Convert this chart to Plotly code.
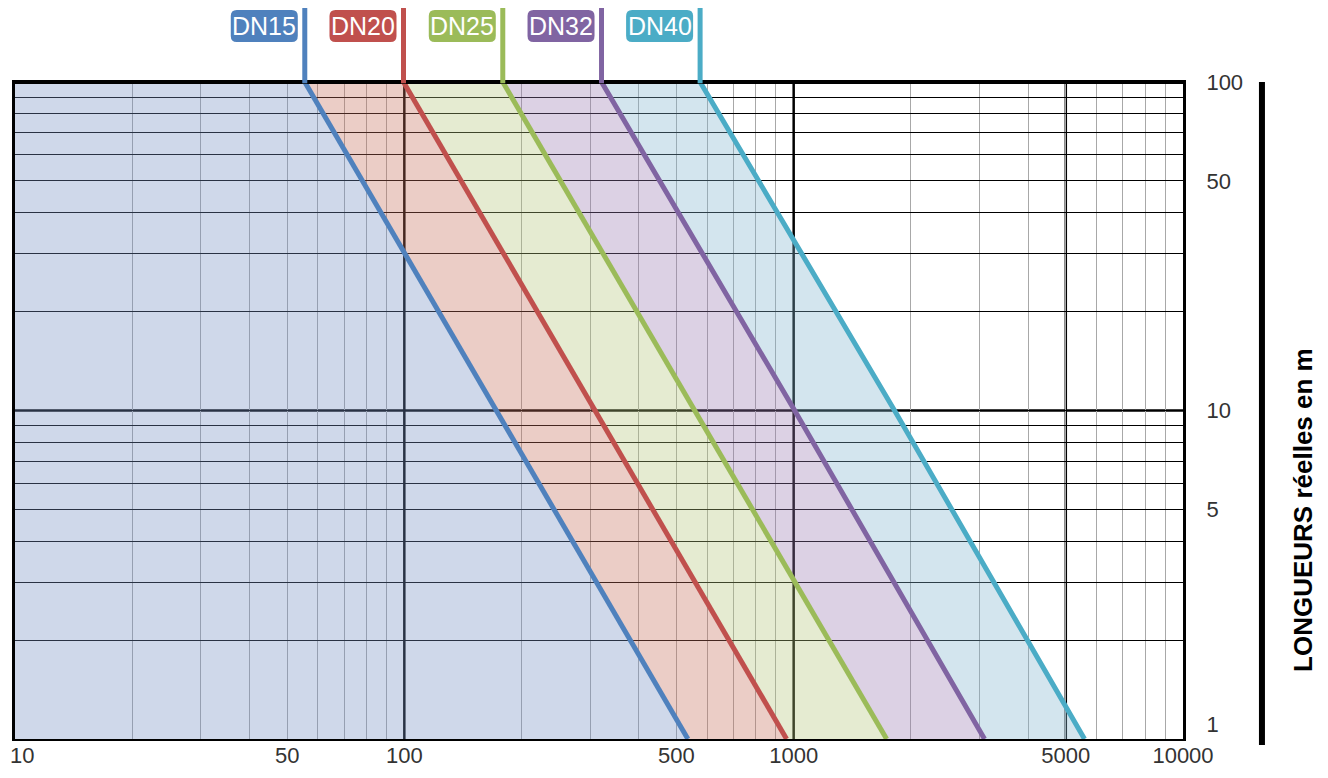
import numpy as np
import plotly.graph_objects as go

# ---- data ----
series_names = ["DN15", "DN20", "DN25", "DN32", "DN40"]
lengths_y = [100, 10, 1]              # real lengths (m) at the read points
dn15_x = [55.5, 172.8, 535]
dn20_x = [99.5, 308, 959]
dn25_x = [179, 557, 1733]
dn32_x = [321, 1006, 3092]
dn40_x = [575, 1816, 5585]
series_x = [dn15_x, dn20_x, dn25_x, dn32_x, dn40_x]

line_colors = ["#4f81bd", "#c0504d", "#9bbb59", "#8064a2", "#4bacc6"]
fill_colors = ["rgba(118,144,195,0.35)", "rgba(198,112,92,0.35)",
               "rgba(181,198,124,0.35)", "rgba(155,124,178,0.35)",
               "rgba(129,181,206,0.35)"]

x_tick_vals = [10, 50, 100, 500, 1000, 5000, 10000]
x_tick_text = ["10", "50", "100", "500", "1000", "5000", "10000"]
x_minor_vals = [20, 30, 40, 50, 60, 70, 80, 90,
                200, 300, 400, 500, 600, 700, 800, 900,
                2000, 3000, 4000, 5000, 6000, 7000, 8000, 9000]
x_major_lines = [100, 1000, 5000]
y_tick_vals = [1, 5, 10, 50, 100]
y_tick_text = ["1<br>\u00a0", "5", "10", "50", "100"]
y_minor_vals = [2, 3, 4, 6, 7, 8, 9, 20, 30, 40, 60, 70, 80, 90]
y_major_lines = [10]
x_min, x_max = 10, 10000
y_min, y_max = 1, 100
y_title = "LONGUEURS réelles en m"

fig = go.Figure()

# filled bands
prev_x = None
for name, xs, fc in zip(series_names, series_x, fill_colors):
    px = [x_min] * len(lengths_y) if prev_x is None else prev_x
    poly_x = list(xs) + list(reversed(px))
    poly_y = list(lengths_y) + list(reversed(lengths_y))
    fig.add_trace(go.Scatter(
        x=poly_x, y=poly_y, mode="lines", fill="toself",
        fillcolor=fc, line=dict(width=0),
        hoverinfo="skip", showlegend=False))
    prev_x = xs

# lines
for name, xs, col in zip(series_names, series_x, line_colors):
    fig.add_trace(go.Scatter(
        x=xs, y=lengths_y, mode="lines", name=name,
        line=dict(color=col, width=5), showlegend=False))

shapes = []
# thick black vertical / horizontal grid lines
for xv in x_major_lines:
    shapes.append(dict(type="line", xref="x", yref="paper", x0=xv, x1=xv,
                       y0=0, y1=1, layer="between",
                       line=dict(color="black", width=2.5)))
for yv in y_major_lines:
    shapes.append(dict(type="line", xref="paper", yref="y", x0=0, x1=1,
                       y0=yv, y1=yv, layer="between",
                       line=dict(color="black", width=2.5)))
# thicker top border
shapes.append(dict(type="line", xref="paper", yref="paper", x0=0, x1=1,
                   y0=1, y1=1, layer="above",
                   line=dict(color="black", width=4)))

tick_font = dict(family="Liberation Sans, Arial, sans-serif", size=22,
                 color="#333333")

annotations = []
for name, xs, col in zip(series_names, series_x, line_colors):
    # vertical lead line above the plot
    shapes.append(dict(type="line", xref="x", yref="paper", x0=xs[0], x1=xs[0],
                       y0=0.998, y1=1.1126, layer="above",
                       line=dict(color=col, width=5)))
    # rounded label box (pixel sized, anchored at line start)
    w, h, r = 67, 32, 6
    x0, x1 = -7 - w, -7
    y0, y1 = -h / 2, h / 2
    path = (f"M {x0 + r},{y0} L {x1 - r},{y0} Q {x1},{y0} {x1},{y0 + r} "
            f"L {x1},{y1 - r} Q {x1},{y1} {x1 - r},{y1} "
            f"L {x0 + r},{y1} Q {x0},{y1} {x0},{y1 - r} "
            f"L {x0},{y0 + r} Q {x0},{y0} {x0 + r},{y0} Z")
    shapes.append(dict(type="path", xref="x", yref="paper",
                       xsizemode="pixel", ysizemode="pixel",
                       xanchor=xs[0], yanchor=1.0852, path=path,
                       fillcolor=col, line=dict(width=0), layer="above"))
    annotations.append(dict(
        x=np.log10(xs[0]), y=1.0852, xref="x", yref="paper",
        xanchor="center", yanchor="middle", xshift=-7 - w / 2,
        text=name, showarrow=False,
        font=dict(family="Liberation Sans, Arial, sans-serif", size=25,
                  color="white")))

# first x tick label sits at the left page edge: left-aligned text
annotations.append(dict(
    x=np.log10(x_tick_vals[0]), y=0, xref="x", yref="paper",
    xanchor="left", yanchor="middle", xshift=-7, yshift=-16,
    text=x_tick_text[0], showarrow=False, font=tick_font))

# right-hand axis title and bar
shapes.append(dict(type="line", xref="paper", yref="paper", x0=1.0676, x1=1.0676,
                   y0=-0.009, y1=1.0, layer="above",
                   line=dict(color="black", width=6)))
annotations.append(dict(
    x=1.1027, y=0.3486, xref="paper", yref="paper", xanchor="center",
    yanchor="middle", text=f"<b>{y_title}</b>", textangle=-90, showarrow=False,
    font=dict(family="Liberation Sans, Arial, sans-serif", size=26,
              color="black")))

# page has an 8px body margin: size the figure so it fits the window
fig.update_layout(
    width=1312, height=762,
    margin=dict(l=7, r=137, t=74, b=31, autoexpand=False),
    paper_bgcolor="white", plot_bgcolor="white",
    shapes=shapes, annotations=annotations,
    xaxis=dict(type="log", range=[np.log10(x_min), np.log10(x_max)],
               automargin=False, ticklabeloverflow="allow",
               ticklabelstandoff=-4,
               tickvals=x_tick_vals[1:], ticktext=x_tick_text[1:],
               tickfont=tick_font,
               showgrid=False, zeroline=False, ticks="", ticklen=0,
               showline=True, linecolor="black", linewidth=2, mirror=True,
               minor=dict(tickvals=x_minor_vals, showgrid=True,
                          gridcolor="#a8a8a8", gridwidth=1, ticks="")),
    yaxis=dict(type="log", range=[np.log10(y_min), np.log10(y_max)],
               automargin=False, ticklabeloverflow="allow",
               side="right", tickvals=y_tick_vals, ticktext=y_tick_text,
               tickfont=tick_font, ticklabelstandoff=16,
               showgrid=True, gridcolor="black", gridwidth=1,
               zeroline=False, ticks="",
               showline=True, linecolor="black", linewidth=3, mirror=True,
               minor=dict(tickvals=y_minor_vals, showgrid=True,
                          gridcolor="black", gridwidth=1, ticks="")),
)

fig.write_html("out.html")
